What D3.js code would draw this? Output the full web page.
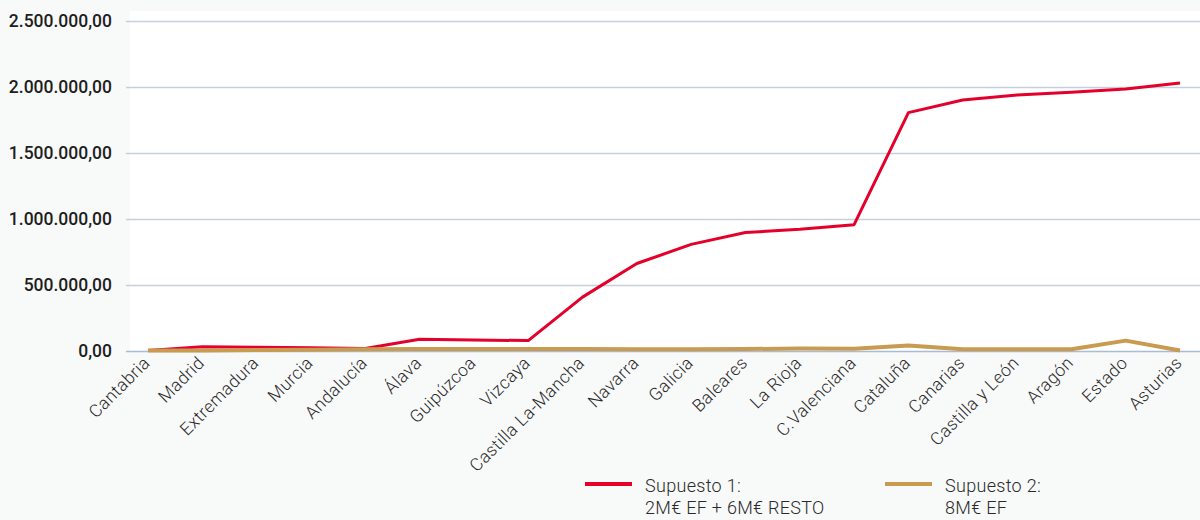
<!DOCTYPE html>
<html>
<head>
<meta charset="utf-8">
<script src="https://cdn.jsdelivr.net/npm/d3@7"></script>
<style>
  body { margin: 0; background: #f8f9f9; }
  svg { display: block; font-family: Roboto, "Noto Sans", sans-serif; }
</style>
</head>
<body>
<div id="chart"></div>
<script>
const width = 1200;
const height = 520;

// data
const regions = ["Cantabria", "Madrid", "Extremadura", "Murcia", "Andalucía", "Álava", "Guipúzcoa",
    "Vizcaya", "Castilla La-Mancha", "Navarra", "Galicia", "Baleares", "La Rioja", "C.Valenciana",
    "Cataluña", "Canarias", "Castilla y León", "Aragón", "Estado", "Asturias"];
const supuesto1 = [0, 28000, 25000, 20000, 15000, 85000, 80000, 75000, 405000, 660000, 805000,
    895000, 920000, 955000, 1805000, 1900000, 1938000, 1960000, 1984000, 2030000];
const supuesto2 = [0, 0, 3000, 6000, 9000, 11000, 12000, 12000, 11000, 10000, 10000, 11000,
    15000, 14000, 38000, 10000, 10000, 10000, 75000, 0];
const yTicks = [0, 500000, 1000000, 1500000, 2000000, 2500000];

const seriesInfo = [
    { name: "Supuesto 1", values: supuesto1, color: "#e4002b", width: 3, lines: ["Supuesto 1:", "2M€ EF + 6M€ RESTO"] },
    { name: "Supuesto 2", values: supuesto2, color: "#c89b50", width: 4, lines: ["Supuesto 2:", "8M€ EF"] }
];

const plot = { left: 130, right: 1200, top: 11, bottom: 351 };

const svg = d3.select("#chart")
    .append("svg")
    .attr("width", width)
    .attr("height", height);

svg.append("rect")
    .attr("width", width).attr("height", height)
    .attr("fill", "#f8f9f9");

svg.append("rect")
    .attr("x", plot.left).attr("y", plot.top)
    .attr("width", plot.right - plot.left).attr("height", plot.bottom - plot.top)
    .attr("fill", "#ffffff");

const x = d3.scalePoint()
    .domain(regions)
    .range([148, 1180]);

const y = d3.scaleLinear()
    .domain([0, 2500000])
    .range([350.5, 21]);

const fmt = v => d3.format(",.2f")(v).replace(/,/g, "#").replace(".", ",").replace(/#/g, ".");

// grid + y labels
const grid = svg.append("g");
grid.selectAll("line")
    .data(yTicks)
    .enter()
    .append("line")
    .attr("x1", 126).attr("x2", plot.right)
    .attr("y1", d => Math.round(y(d)) + 0.5)
    .attr("y2", d => Math.round(y(d)) + 0.5)
    .attr("stroke", d => d === 0 ? "#a9bcd6" : "#c5d0dd")
    .attr("stroke-width", 1.3);

grid.selectAll("text")
    .data(yTicks)
    .enter()
    .append("text")
    .attr("x", 112)
    .attr("y", d => y(d) + 6)
    .attr("text-anchor", "end")
    .attr("font-size", 17.5)
    .attr("font-weight", 500)
    .attr("fill", "#1e1e1e")
    .text(d => fmt(d));

// x labels
svg.append("g")
    .selectAll("text")
    .data(regions)
    .enter()
    .append("text")
    .attr("transform", d => `translate(${x(d) + 3},${364}) rotate(-45)`)
    .attr("text-anchor", "end")
    .attr("font-size", 17.5)
    .attr("font-weight", 300)
    .attr("letter-spacing", 0.4)
    .attr("fill", "#2a2a2a")
    .text(d => d);

// lines
const line = d3.line()
    .x((d, i) => x(regions[i]))
    .y(d => y(d));

svg.append("g")
    .selectAll("path")
    .data(seriesInfo)
    .enter()
    .append("path")
    .attr("d", d => line(d.values))
    .attr("fill", "none")
    .attr("stroke", d => d.color)
    .attr("stroke-width", d => d.width)
    .attr("stroke-linejoin", "round");

// legend
const legend = svg.append("g")
    .selectAll("g")
    .data(seriesInfo)
    .enter()
    .append("g")
    .attr("transform", (d, i) => `translate(${585 + i * 300},484)`);

legend.append("line")
    .attr("x1", 0).attr("x2", 47)
    .attr("stroke", d => d.color)
    .attr("stroke-width", 4);

legend.append("text")
    .attr("x", 60)
    .attr("y", 8)
    .attr("font-size", 18)
    .attr("font-weight", 300)
    .attr("letter-spacing", 0.3)
    .attr("fill", "#2a2a2a")
    .selectAll("tspan")
    .data(d => d.lines)
    .enter()
    .append("tspan")
    .attr("x", 60)
    .attr("dy", (d, i) => i === 0 ? 0 : 22)
    .text(d => d);
</script>
</body>
</html>
